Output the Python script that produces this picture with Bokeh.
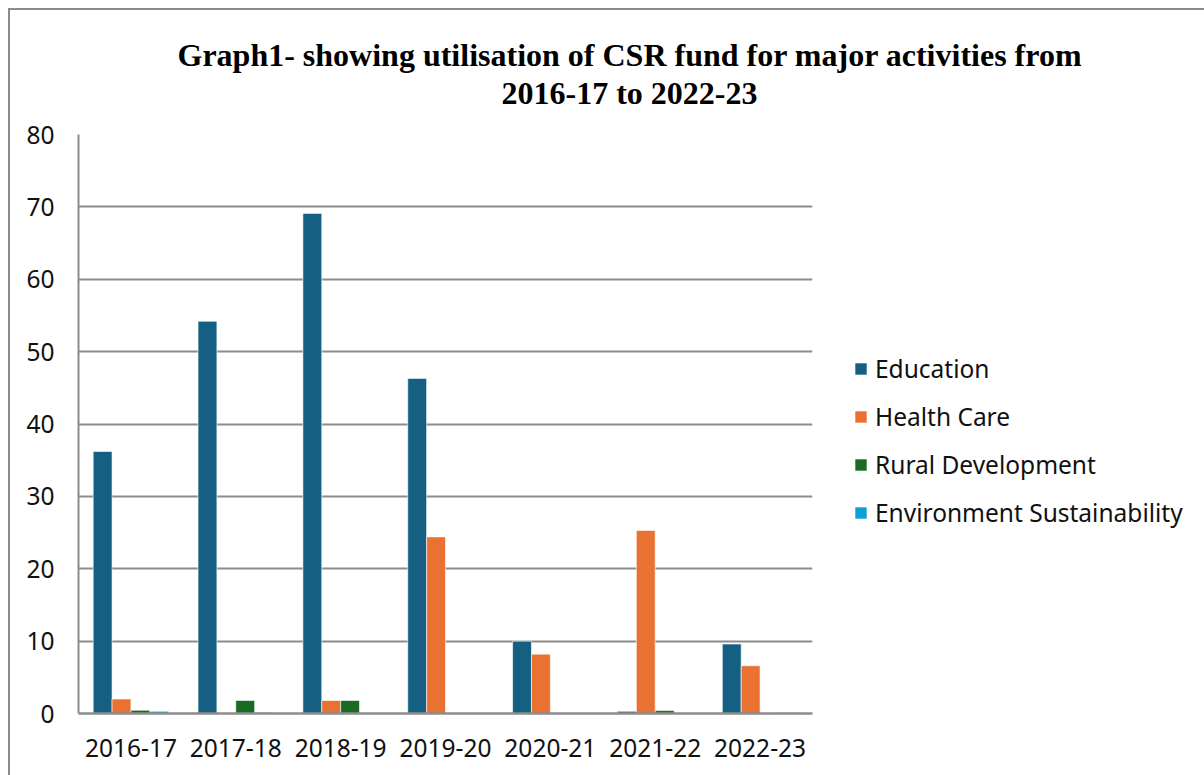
from bokeh.plotting import figure
from bokeh.models import (ColumnDataSource, FactorRange, Legend, LegendItem, Title,
                          FixedTicker, Range1d)
from bokeh.transform import dodge
from bokeh.embed import file_html
from bokeh.resources import INLINE

years = ["2016-17", "2017-18", "2018-19", "2019-20", "2020-21", "2021-22", "2022-23"]
education = [36.2, 54.2, 69.1, 46.3, 10.0, 0.3, 9.6]
health_care = [2.0, 0.0, 1.8, 24.4, 8.2, 25.3, 6.6]
rural_development = [0.45, 1.8, 1.8, 0.0, 0.0, 0.4, 0.0]
environment = [0.3, 0.15, 0.0, 0.0, 0.0, 0.0, 0.1]

series_names = ["Education", "Health Care", "Rural Development", "Environment Sustainability"]
series_cols = ["education", "health_care", "rural_development", "environment"]
colors = ["#156082", "#E97132", "#196B24", "#0F9ED5"]

title_lines = ["Graph1- showing utilisation of CSR fund for major activities from",
               "2016-17 to 2022-23"]

source = ColumnDataSource(dict(years=years, education=education, health_care=health_care,
                               rural_development=rural_development, environment=environment))

GRAY = "#8c8c8c"
TICK_FONT = "Noto Sans"
FS = "24.5px"

p = figure(x_range=FactorRange(*years), y_range=Range1d(0, 80),
           frame_width=734, frame_height=579,
           min_border_left=68, min_border_top=124, min_border_bottom=62, min_border_right=392,
           output_backend="svg", toolbar_location=None)
p.styles = {"border-left": f"2px solid {GRAY}", "border-top": f"2px solid {GRAY}",
            "margin-left": "8px", "margin-top": "8px"}
p.outline_line_color = None
p.background_fill_color = "white"
p.border_fill_color = "white"

bar_w = 0.18
offsets = [-0.27, -0.09, 0.09, 0.27]
items = []
for col, name, color, off in zip(series_cols, series_names, colors, offsets):
    r = p.vbar(x=dodge("years", off, range=p.x_range), top=col, width=bar_w, source=source,
               fill_color=color, line_color="white", line_width=0.6)
    items.append(LegendItem(label=name, renderers=[r]))

legend = Legend(items=items, location=(41, 184), orientation="vertical",
                border_line_color=None, background_fill_alpha=0,
                glyph_width=15, glyph_height=15, label_standoff=7, spacing=15,
                padding=0, margin=0,
                label_text_font=TICK_FONT, label_text_font_size=FS, label_text_color="#111111")
p.add_layout(legend, "right")

# axes
p.yaxis.ticker = FixedTicker(ticks=[0, 10, 20, 30, 40, 50, 60, 70, 80])
p.yaxis.axis_line_color = GRAY
p.yaxis.axis_line_width = 2
p.yaxis.major_tick_line_color = None
p.yaxis.minor_tick_line_color = None
p.yaxis.major_label_standoff = 18
p.yaxis.major_label_text_font = TICK_FONT
p.yaxis.major_label_text_font_size = FS
p.yaxis.major_label_text_color = "#111111"

p.xaxis.axis_line_color = GRAY
p.xaxis.axis_line_width = 2.5
p.xaxis.major_tick_line_color = None
p.xaxis.minor_tick_line_color = None
p.xaxis.major_label_standoff = 19
p.xaxis.major_label_text_font = TICK_FONT
p.xaxis.major_label_text_font_size = FS
p.xaxis.major_label_text_color = "#111111"

p.xgrid.grid_line_color = None
p.ygrid.grid_line_color = GRAY
p.ygrid.grid_line_width = 2

# two-line title: second line added first so it sits nearer the plot
for line, off, so in [(title_lines[1], 423, 48), (title_lines[0], 99, -48)]:
    p.add_layout(Title(text=line, align="left", offset=off,
                       text_font="Liberation Serif", text_font_style="bold",
                       text_font_size="32px", text_color="black", standoff=so), "above")

open("out.html", "w").write(file_html(p, INLINE))
